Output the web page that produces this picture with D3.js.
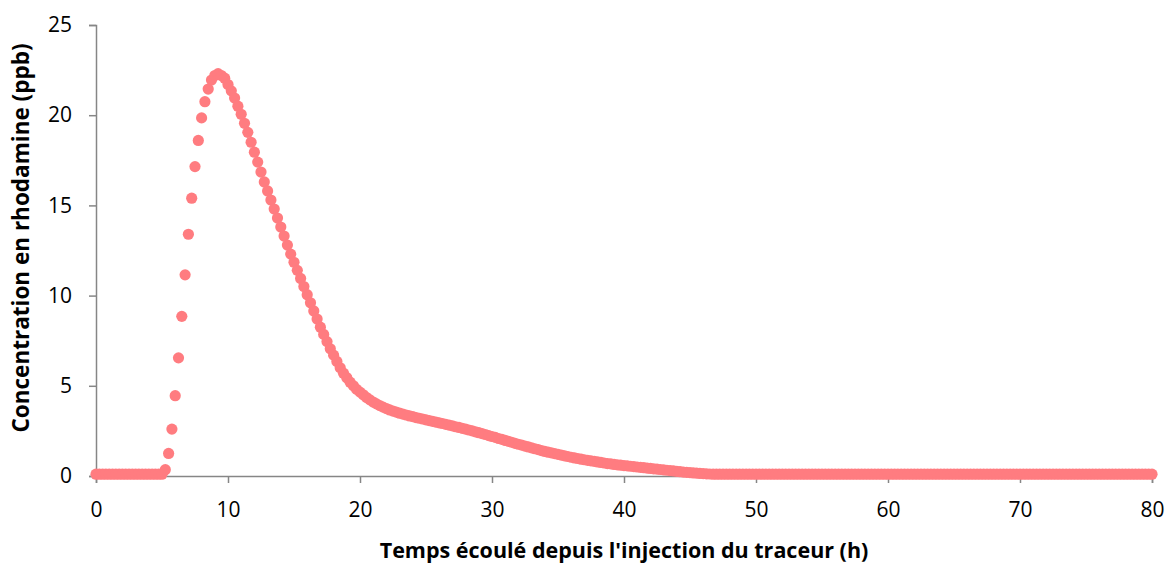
<!DOCTYPE html>
<html>
<head>
<meta charset="utf-8">
<script src="https://cdn.jsdelivr.net/npm/d3@7"></script>
<style>
  html, body { margin: 0; padding: 0; background: #ffffff; }
  svg { display: block; }
</style>
</head>
<body>
<svg id="chart" width="1167" height="563"></svg>
<script>
// Sampling times (h)
const times = [
  0,0.25,0.5,0.75,1,1.25,1.5,1.75,2,2.25,2.5,2.75,3,3.25,3.5,3.75,4,4.25,4.5,4.75,
  5,5.25,5.5,5.75,6,6.25,6.5,6.75,7,7.25,7.5,7.75,8,8.25,8.5,8.75,9,9.25,9.5,9.75,
  10,10.25,10.5,10.75,11,11.25,11.5,11.75,12,12.25,12.5,12.75,13,13.25,13.5,13.75,14,14.25,14.5,14.75,
  15,15.25,15.5,15.75,16,16.25,16.5,16.75,17,17.25,17.5,17.75,18,18.25,18.5,18.75,19,19.25,19.5,19.75,
  20,20.25,20.5,20.75,21,21.25,21.5,21.75,22,22.25,22.5,22.75,23,23.25,23.5,23.75,24,24.25,24.5,24.75,
  25,25.25,25.5,25.75,26,26.25,26.5,26.75,27,27.25,27.5,27.75,28,28.25,28.5,28.75,29,29.25,29.5,29.75,
  30,30.25,30.5,30.75,31,31.25,31.5,31.75,32,32.25,32.5,32.75,33,33.25,33.5,33.75,34,34.25,34.5,34.75,
  35,35.25,35.5,35.75,36,36.25,36.5,36.75,37,37.25,37.5,37.75,38,38.25,38.5,38.75,39,39.25,39.5,39.75,
  40,40.25,40.5,40.75,41,41.25,41.5,41.75,42,42.25,42.5,42.75,43,43.25,43.5,43.75,44,44.25,44.5,44.75,
  45,45.25,45.5,45.75,46,46.25,46.5,46.75,47,47.25,47.5,47.75,48,48.25,48.5,48.75,49,49.25,49.5,49.75,
  50,50.25,50.5,50.75,51,51.25,51.5,51.75,52,52.25,52.5,52.75,53,53.25,53.5,53.75,54,54.25,54.5,54.75,
  55,55.25,55.5,55.75,56,56.25,56.5,56.75,57,57.25,57.5,57.75,58,58.25,58.5,58.75,59,59.25,59.5,59.75,
  60,60.25,60.5,60.75,61,61.25,61.5,61.75,62,62.25,62.5,62.75,63,63.25,63.5,63.75,64,64.25,64.5,64.75,
  65,65.25,65.5,65.75,66,66.25,66.5,66.75,67,67.25,67.5,67.75,68,68.25,68.5,68.75,69,69.25,69.5,69.75,
  70,70.25,70.5,70.75,71,71.25,71.5,71.75,72,72.25,72.5,72.75,73,73.25,73.5,73.75,74,74.25,74.5,74.75,
  75,75.25,75.5,75.75,76,76.25,76.5,76.75,77,77.25,77.5,77.75,78,78.25,78.5,78.75,79,79.25,79.5,79.75,
  80
];

// Rhodamine concentration (ppb)
const concentration = [
  0.1,0.1,0.1,0.1,0.1,0.1,0.1,0.1,0.1,0.1,0.1,0.1,0.1,0.1,0.1,0.1,0.1,0.1,0.1,0.1,
  0.1,0.35,1.25,2.6,4.45,6.55,8.85,11.15,13.4,15.4,17.15,18.6,19.85,20.75,21.45,21.95,22.2,22.3,22.2,22.05,
  21.7,21.35,20.95,20.5,20.05,19.55,19.05,18.5,17.95,17.4,16.85,16.3,15.8,15.3,14.8,14.3,13.8,13.3,12.8,12.3,
  11.85,11.4,10.95,10.5,10.05,9.6,9.15,8.7,8.25,7.85,7.45,7.05,6.7,6.35,6.0,5.7,5.45,5.2,5.0,4.8,
  4.65,4.5,4.35,4.22,4.1,4.0,3.9,3.82,3.74,3.66,3.6,3.54,3.48,3.43,3.38,3.33,3.29,3.24,3.2,3.16,
  3.11,3.07,3.03,2.99,2.95,2.91,2.86,2.82,2.78,2.73,2.69,2.64,2.6,2.55,2.5,2.45,2.4,2.35,2.3,2.24,
  2.19,2.14,2.08,2.03,1.97,1.92,1.87,1.81,1.76,1.71,1.66,1.61,1.56,1.51,1.46,1.41,1.36,1.32,1.28,1.24,
  1.2,1.16,1.12,1.08,1.04,1.0,0.97,0.93,0.9,0.87,0.84,0.81,0.78,0.75,0.72,0.69,0.67,0.64,0.62,0.6,
  0.58,0.56,0.54,0.52,0.5,0.48,0.46,0.44,0.42,0.4,0.38,0.36,0.34,0.32,0.3,0.28,0.26,0.24,0.22,0.2,
  0.19,0.17,0.16,0.14,0.13,0.12,0.11,0.1,0.1,0.1,0.1,0.1,0.1,0.1,0.1,0.1,0.1,0.1,0.1,0.1,
  0.1,0.1,0.1,0.1,0.1,0.1,0.1,0.1,0.1,0.1,0.1,0.1,0.1,0.1,0.1,0.1,0.1,0.1,0.1,0.1,
  0.1,0.1,0.1,0.1,0.1,0.1,0.1,0.1,0.1,0.1,0.1,0.1,0.1,0.1,0.1,0.1,0.1,0.1,0.1,0.1,
  0.1,0.1,0.1,0.1,0.1,0.1,0.1,0.1,0.1,0.1,0.1,0.1,0.1,0.1,0.1,0.1,0.1,0.1,0.1,0.1,
  0.1,0.1,0.1,0.1,0.1,0.1,0.1,0.1,0.1,0.1,0.1,0.1,0.1,0.1,0.1,0.1,0.1,0.1,0.1,0.1,
  0.1,0.1,0.1,0.1,0.1,0.1,0.1,0.1,0.1,0.1,0.1,0.1,0.1,0.1,0.1,0.1,0.1,0.1,0.1,0.1,
  0.1,0.1,0.1,0.1,0.1,0.1,0.1,0.1,0.1,0.1,0.1,0.1,0.1,0.1,0.1,0.1,0.1,0.1,0.1,0.1,
  0.1
];

const xTicks = [0, 10, 20, 30, 40, 50, 60, 70, 80];
const yTicks = [0, 5, 10, 15, 20, 25];
const xTitle = "Temps écoulé depuis l'injection du traceur (h)";
const yTitle = "Concentration en rhodamine (ppb)";

const data = times.map((t, i) => ({ t: t, c: concentration[i] }));

const svg = d3.select("#chart");
const margin = { left: 96, right: 15, top: 25, bottom: 87 };
const W = 1167, H = 563;

const x = d3.scaleLinear().domain([0, 80]).range([margin.left, W - margin.right]);
const y = d3.scaleLinear().domain([0, 25]).range([H - margin.bottom, margin.top]);

const axisColor = "#868686";
const font = '"Open Sans", "DejaVu Sans", sans-serif';

// X axis
const gx = svg.append("g")
  .attr("transform", `translate(0,${y(0)})`)
  .call(d3.axisBottom(x).tickValues(xTicks).tickSize(7).tickPadding(19).tickFormat(d3.format("d")));
gx.select(".domain").attr("stroke", axisColor).attr("stroke-width", 1.5);
gx.selectAll(".tick line").attr("stroke", axisColor).attr("stroke-width", 1.5);
gx.selectAll(".tick text").attr("fill", "#000").attr("font-size", 21).attr("font-family", font);

// Y axis
const gy = svg.append("g")
  .attr("transform", `translate(${x(0)},0)`)
  .call(d3.axisLeft(y).tickValues(yTicks).tickSize(7).tickPadding(17).tickFormat(d3.format("d")));
gy.select(".domain").attr("stroke", axisColor).attr("stroke-width", 1.5);
gy.selectAll(".tick line").attr("stroke", axisColor).attr("stroke-width", 1.5);
gy.selectAll(".tick text").attr("fill", "#000").attr("font-size", 21).attr("font-family", font);

// Points
svg.append("g")
  .selectAll("circle")
  .data(data)
  .join("circle")
  .attr("cx", d => x(d.t))
  .attr("cy", d => y(d.c))
  .attr("r", 5.6)
  .attr("fill", "#FF7C80");

// Axis titles
svg.append("text")
  .attr("x", 624)
  .attr("y", 558)
  .attr("text-anchor", "middle")
  .attr("font-family", font)
  .attr("font-weight", "bold")
  .attr("font-size", 21.5)
  .attr("fill", "#000")
  .text(xTitle);

svg.append("text")
  .attr("transform", `translate(29,238) rotate(-90)`)
  .attr("text-anchor", "middle")
  .attr("font-family", font)
  .attr("font-weight", "bold")
  .attr("font-size", 22.5)
  .attr("fill", "#000")
  .text(yTitle);
</script>
</body>
</html>
